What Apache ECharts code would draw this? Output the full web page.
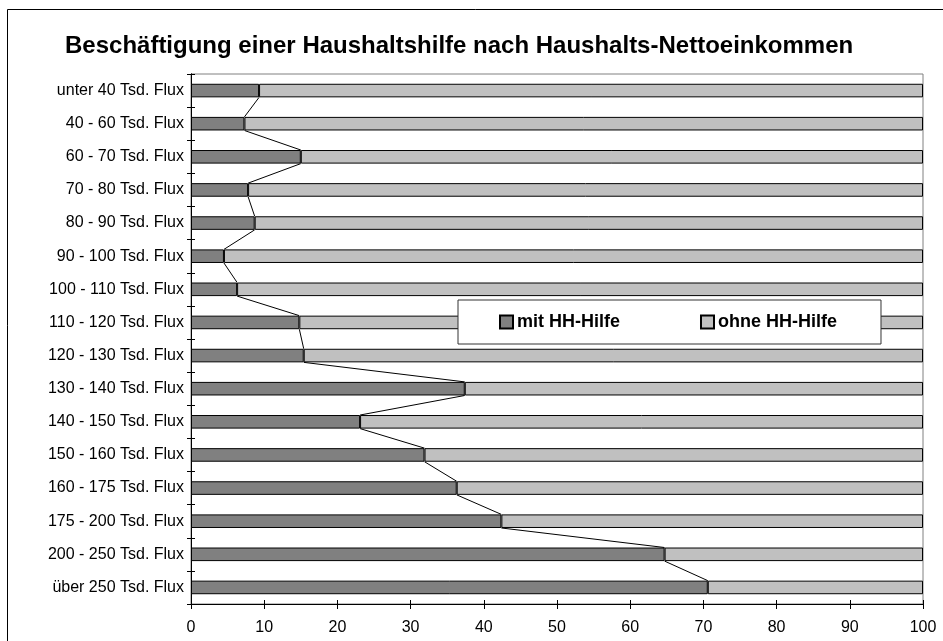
<!DOCTYPE html>
<html>
<head>
<meta charset="utf-8">
<script src="https://cdn.jsdelivr.net/npm/echarts@6/dist/echarts.min.js"></script>
<style>
html,body{margin:0;padding:0;background:#fff;}
#chart{width:943px;height:641px;}
</style>
</head>
<body>
<div id="chart"></div>
<script>
var titleText = 'Beschäftigung einer Haushaltshilfe nach Haushalts-Nettoeinkommen';
var categories = ['unter 40 Tsd. Flux','40 - 60 Tsd. Flux','60 - 70 Tsd. Flux','70 - 80 Tsd. Flux','80 - 90 Tsd. Flux','90 - 100 Tsd. Flux','100 - 110 Tsd. Flux','110 - 120 Tsd. Flux','120 - 130 Tsd. Flux','130 - 140 Tsd. Flux','140 - 150 Tsd. Flux','150 - 160 Tsd. Flux','160 - 175 Tsd. Flux','175 - 200 Tsd. Flux','200 - 250 Tsd. Flux','über 250 Tsd. Flux'];
var mitHilfe = [9.3, 7.3, 15.0, 7.8, 8.7, 4.5, 6.3, 14.8, 15.4, 37.4, 23.1, 31.9, 36.3, 42.4, 64.7, 70.6];
var ohneHilfe = mitHilfe.map(function(v){ return +(100 - v).toFixed(1); });
var xTicks = [0,10,20,30,40,50,60,70,80,90,100];

var BAR_RATIO = 0.41;
var seriesLineData = [];
for (var i = 0; i < mitHilfe.length - 1; i++) {
  seriesLineData.push([mitHilfe[i], i, mitHilfe[i+1]]);
}

var FONT = '"Liberation Sans", Arial, sans-serif';
var chart = echarts.init(document.getElementById('chart'));
var yBase = {
  type: 'category', data: categories, inverse: true,
  axisLine: {show: true, lineStyle: {color: '#000', width: 1}},
  splitLine: {show: false}
};
var xBase = {
  type: 'value', min: 0, max: 100, interval: 10,
  axisLine: {show: true, lineStyle: {color: '#000', width: 1}},
  splitLine: {show: false}
};
chart.setOption({
  backgroundColor: '#fff',
  animation: false,
  title: {
    text: titleText, left: 65, top: 34, padding: 0,
    textStyle: {fontFamily: FONT, fontSize: 24, fontWeight: 'bold', color: '#000'}
  },
  legend: {
    left: 458, top: 300,
    padding: [13, 44, 13, 41],
    itemGap: 80,
    itemWidth: 13, itemHeight: 13,
    icon: 'rect',
    backgroundColor: '#fff',
    borderColor: '#333', borderWidth: 1,
    data: ['mit HH-Hilfe', 'ohne HH-Hilfe'],
    textStyle: {fontFamily: FONT, fontSize: 18, fontWeight: 'bold', color: '#000', padding: [0,0,0,-1]},
    z: 10
  },
  grid: {left: 191, right: 20, top: 74, bottom: 37, show: true, borderColor: '#808080', borderWidth: 1, backgroundColor: 'transparent'},
  xAxis: [
    Object.assign({}, xBase, {
      position: 'bottom',
      axisTick: {show: true, length: 5, lineStyle: {color: '#000'}},
      axisLabel: {margin: 16, color: '#000', fontFamily: FONT, fontSize: 16,
        formatter: function(v){ return xTicks.indexOf(v) >= 0 ? String(v) : ''; }}
    }),
    Object.assign({}, xBase, {
      position: 'bottom',
      axisTick: {show: true, inside: true, length: 4, lineStyle: {color: '#000'}},
      axisLabel: {show: false}
    })
  ],
  yAxis: [
    Object.assign({}, yBase, {
      position: 'left',
      axisTick: {show: true, length: 4, lineStyle: {color: '#000'}},
      axisLabel: {margin: 7, color: '#000', fontFamily: FONT, fontSize: 16}
    }),
    Object.assign({}, yBase, {
      position: 'left', offset: 0,
      axisTick: {show: true, inside: true, length: 4, lineStyle: {color: '#000'}},
      axisLabel: {show: false}
    })
  ],
  graphic: [{
    type: 'rect', shape: {x: 7.5, y: 9.5, width: 1000, height: 1000},
    style: {fill: 'none', stroke: '#000', lineWidth: 1}, silent: true, z: 100
  }],
  series: [
    {
      name: 'mit HH-Hilfe', type: 'bar', stack: 'total', data: mitHilfe,
      barWidth: (BAR_RATIO*100) + '%',
      itemStyle: {color: '#808080', borderColor: '#000', borderWidth: 1}
    },
    {
      name: 'ohne HH-Hilfe', type: 'bar', stack: 'total', data: ohneHilfe,
      barWidth: (BAR_RATIO*100) + '%',
      itemStyle: {color: '#C0C0C0', borderColor: '#000', borderWidth: 1}
    },
    {
      name: 'Reihenlinien', type: 'custom', data: seriesLineData,
      encode: {x: [0, 2], y: 1},
      z: 5, silent: true,
      renderItem: function(params, api) {
        var idx = api.value(1);
        var p1 = api.coord([api.value(0), idx]);
        var p2 = api.coord([api.value(2), idx + 1]);
        var band = api.size([0, 1])[1];
        var h = band * BAR_RATIO / 2;
        return {
          type: 'line',
          shape: {x1: p1[0], y1: p1[1] + h, x2: p2[0], y2: p2[1] - h},
          style: {stroke: '#000', lineWidth: 1}
        };
      }
    }
  ]
});
</script>
</body>
</html>
